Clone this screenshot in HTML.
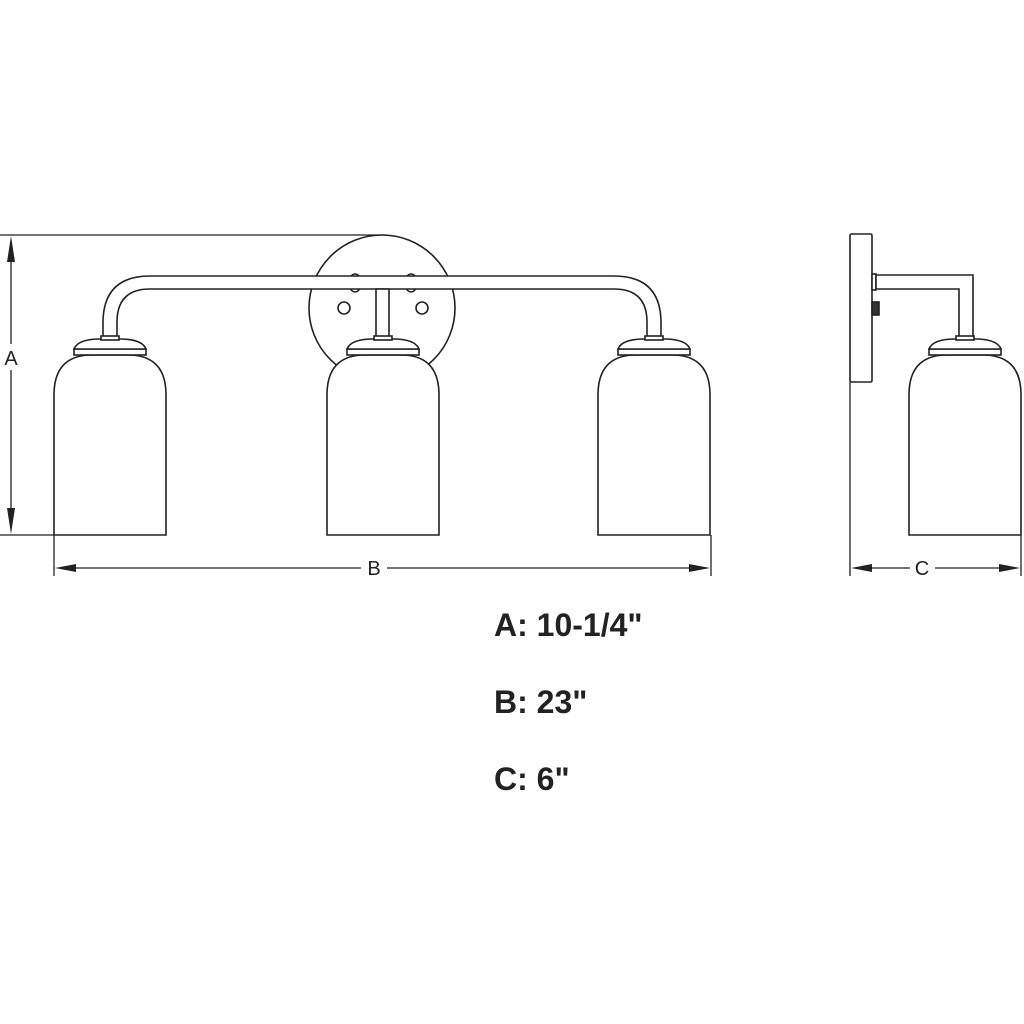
<!DOCTYPE html>
<html><head><style>html,body{margin:0;padding:0;background:#fff}svg{display:block}</style></head>
<body>
<svg width="1024" height="1024" viewBox="0 0 1024 1024" xmlns="http://www.w3.org/2000/svg">
<defs>
<g id="lamp" fill="#fff" stroke="#222" stroke-width="1.6">
  <path d="M-56,535 L-56,395 Q-56,355 -18,355 L18,355 Q56,355 56,395 L56,535 Z"/>
  <rect x="-36" y="349" width="72" height="6"/>
  <path d="M-36,349 Q-32,339 -10,339 L10,339 Q32,339 36,349 Z"/>
  <rect x="-9" y="336" width="18" height="4"/>
</g>
</defs>
<g fill="none" stroke="#222" stroke-width="1.3">
  <line x1="0" y1="235" x2="385" y2="235"/>
  <line x1="0" y1="535" x2="54" y2="535"/>
  <line x1="11" y1="250" x2="11" y2="344"/>
  <line x1="11" y1="370" x2="11" y2="520"/>
  <line x1="54" y1="535" x2="54" y2="576"/>
  <line x1="711" y1="535" x2="711" y2="576"/>
  <line x1="70" y1="568" x2="361" y2="568"/>
  <line x1="387" y1="568" x2="695" y2="568"/>
  <line x1="850" y1="382" x2="850" y2="576"/>
  <line x1="1021" y1="535" x2="1021" y2="576"/>
  <line x1="866" y1="568" x2="910" y2="568"/>
  <line x1="935" y1="568" x2="1005" y2="568"/>
</g>
<g fill="#222">
  <polygon points="11,236 7,262 15,262"/>
  <polygon points="11,534 7,508 15,508"/>
  <polygon points="55,568 76,564 76,572"/>
  <polygon points="710,568 689,564 689,572"/>
  <polygon points="851,568 872,564 872,572"/>
  <polygon points="1020,568 999,564 999,572"/>
</g>
<g font-family="Liberation Sans, sans-serif" font-size="20" fill="#222" text-anchor="middle">
  <text x="11" y="365">A</text>
  <text x="374" y="575">B</text>
  <text x="922" y="575">C</text>
</g>
<g fill="#fff" stroke="#222" stroke-width="1.6">
  <circle cx="382" cy="308" r="73"/>
  <circle cx="344" cy="308" r="6"/>
  <circle cx="422" cy="308" r="6"/>
  <ellipse cx="355" cy="283" rx="6" ry="9"/>
  <ellipse cx="411" cy="283" rx="6" ry="9"/>
  <path d="M103,338 L103,323 Q103,276 150,276 L614,276 Q661,276 661,323 L661,338 L647,338 L647,322 Q647,289 614,289 L150,289 Q117,289 117,322 L117,338 Z"/>
  <rect x="376" y="289" width="13" height="49"/>
</g>
<use href="#lamp" x="110" y="0"/>
<use href="#lamp" x="383" y="0"/>
<use href="#lamp" x="654" y="0"/>
<g fill="#fff" stroke="#222" stroke-width="1.6">
  <rect x="850" y="234" width="22" height="148" rx="1.5"/>
  <rect x="872" y="274" width="4" height="16"/>
  <rect x="872" y="302" width="7" height="13" fill="#333"/>
  <path d="M876,275 L973,275 L973,338 L959,338 L959,289 L876,289 Z"/>
</g>
<use href="#lamp" x="965" y="0"/>
<g font-family="Liberation Sans, sans-serif" font-size="32" font-weight="bold" fill="#222">
  <text x="494" y="636">A: 10-1/4"</text>
  <text x="494" y="713">B: 23"</text>
  <text x="494" y="790">C: 6"</text>
</g>
</svg>
</body></html>
